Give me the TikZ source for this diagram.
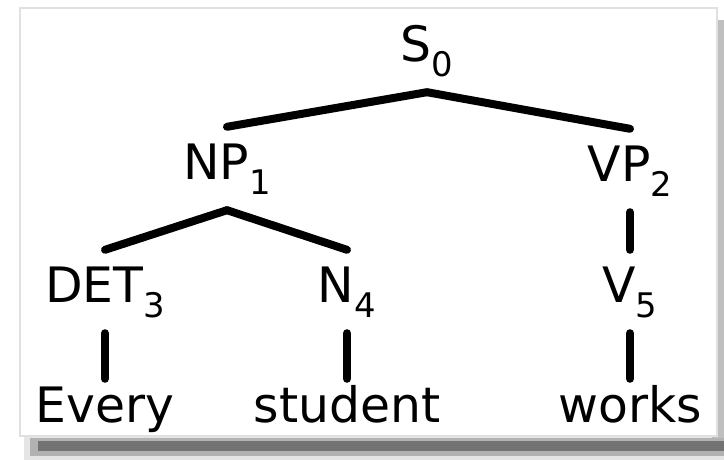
\documentclass[tikz,border=0pt]{standalone}
\usepackage{fontspec}
\setmainfont{DejaVu Sans}
\usepackage{tikz}

% category label with its index set low
\newcommand{\catlab}[2]{#1\raisebox{-15bp}{\fontsize{34}{34}\selectfont #2}}

\tikzset{
    cat/.style={font=\fontsize{49}{56}\selectfont, anchor=base,
        inner sep=0pt, inner ysep=10bp, text height=43bp, text depth=20bp},
    word/.style={cat, text height=33bp},
    branch/.style={line width=8bp, line cap=round},
}

\begin{document}
\begin{tikzpicture}[x=1bp, y=-1bp]
    \useasboundingbox (0,0) rectangle (724,460);

    % hoja de papel con sombra
    \fill[black!10] (24,432) rectangle (724,460);
    \fill[black!25] (712,20) rectangle (724,456);
    \fill[black!30] (30,438) rectangle (724,456);
    \fill[black!55] (38,441) rectangle (724,451);
    \filldraw[fill=white, draw=black!12, line width=1.5bp]
        (20,8) rectangle (717,436);

    % categorias
    \node[cat] (s0)   at (427,62)  {\catlab{S}{0}};
    \node[cat] (np1)  at (227,180) {\catlab{NP}{1}};
    \node[cat] (vp2)  at (630,182) {\catlab{VP}{2}};
    \node[cat] (det3) at (105,303) {\catlab{DET}{3}};
    \node[cat] (n4)   at (347,303) {\catlab{N}{4}};
    \node[cat] (v5)   at (630,303) {\catlab{V}{5}};

    % palabras
    \node[word] (w1) at (105,422) {Every};
    \node[word] (w2) at (347,422) {student};
    \node[word] (w3) at (630,422) {works};

    % ramas
    \foreach \a/\b in {s0/np1, s0/vp2, np1/det3, np1/n4, vp2/v5,
                       det3/w1, n4/w2, v5/w3}
        \draw[branch] (\a.south) -- (\b.north);
\end{tikzpicture}
\end{document}
